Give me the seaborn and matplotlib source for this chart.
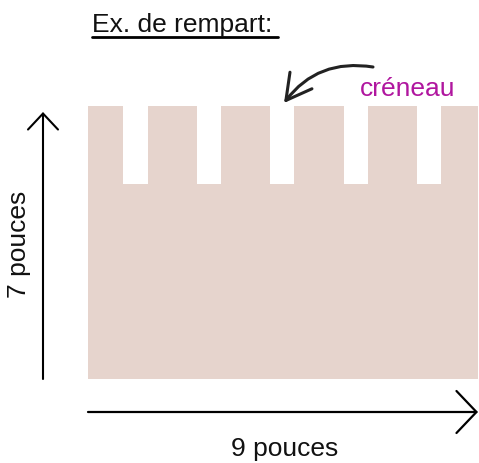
import matplotlib
matplotlib.use("Agg")
import matplotlib.pyplot as plt
from matplotlib.lines import Line2D
from matplotlib.patches import FancyArrowPatch
import seaborn as sns

sns.set_style("white")
plt.rcParams['font.family'] = ['Liberation Sans', 'DejaVu Sans']

# rempart en pouces
largeur = 9
hauteur = 7
profondeur_creneau = 2
merlon_debut = [0, 1.38, 3.07, 4.75, 6.46, 8.15]
merlon_fin = [0.81, 2.52, 4.20, 5.91, 7.59, 9.0]
couleur = "#e6d4cd"

fig = plt.figure(figsize=(4.79, 4.64), dpi=100)
W, H = 479, 464
ax = fig.add_axes([88 / W, (H - 380) / H, 390 / W, 273 / H])

# base du mur
ax.bar(0, hauteur - profondeur_creneau, width=largeur, align="edge",
       color=couleur, linewidth=0)
# merlons
for a, b in zip(merlon_debut, merlon_fin):
    ax.bar(a, hauteur, width=b - a, align="edge", color=couleur, linewidth=0)

ax.set_xlim(0, largeur)
ax.set_ylim(0, hauteur)
ax.axis("off")

# fleches de cotes (coordonnees figure en pixels)
def px(x, y):
    return (x / W, 1 - y / H)

fig.add_artist(FancyArrowPatch(px(43, 380), px(43, 113),
               transform=fig.transFigure,
               arrowstyle="->,head_length=0.64,head_width=0.6",
               color="black", lw=1.5, mutation_scale=18, shrinkA=0, shrinkB=0))
fig.add_artist(FancyArrowPatch(px(88, 413), px(478, 413),
               transform=fig.transFigure,
               arrowstyle="->,head_length=0.8,head_width=0.84",
               color="black", lw=1.6, mutation_scale=18, shrinkA=0, shrinkB=0))

# fleche courbe vers le creneau
fig.add_artist(FancyArrowPatch(px(373, 68), px(284, 104),
               transform=fig.transFigure,
               arrowstyle="->,head_length=1.0,head_width=0.55",
               color="#222222", lw=2.2, mutation_scale=18, shrinkA=0, shrinkB=0,
               connectionstyle="arc3,rad=0.3"))

# textes
fig.text(*px(92, 25), "Ex. de rempart:", fontsize=19, ha="left", va="center",
         color="#111111")
fig.add_artist(Line2D([92 / W, 278 / W], [1 - 38 / H, 1 - 38 / H],
                      transform=fig.transFigure, color="black", lw=2))
fig.text(*px(408, 89), "créneau", fontsize=19, ha="center", va="center",
         color="#b0169f")
fig.text(*px(19, 244), "7 pouces", fontsize=19, ha="center", va="center",
         rotation=90, color="#111111")
fig.text(*px(285, 449), "9 pouces", fontsize=19, ha="center", va="center",
         color="#111111")

fig.savefig("out.png", dpi=100)
